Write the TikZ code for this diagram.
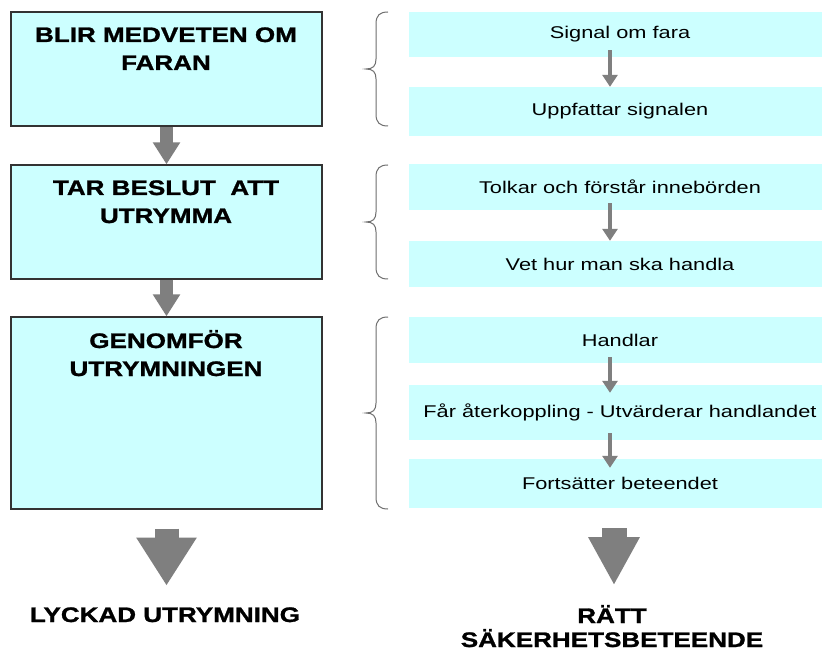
\documentclass[tikz,border=0pt]{standalone}
\usepackage{fontspec}
\setmainfont{Liberation Sans}
\newfontfamily\titlefont[FakeStretch=1.24,FakeBold=1.2]{Liberation Sans Bold}
\newfontfamily\stepfont[FakeStretch=1.28]{Liberation Sans}
\usetikzlibrary{arrows.meta,calc}
\definecolor{boxcyan}{HTML}{CCFFFF}
\definecolor{arrowgray}{HTML}{7F7F7F}
\definecolor{bracegray}{HTML}{6E6E6E}
\definecolor{edgegray}{HTML}{333333}
\tikzset{
  leftbox/.style={draw=edgegray, line width=1.3pt, fill=boxcyan, minimum width=311pt, inner sep=0pt},
  title/.style={font=\titlefont\fontsize{21}{28}\selectfont, align=center, anchor=base, inner sep=0pt},
  result/.style={font=\titlefont\fontsize{21}{24}\selectfont, align=center, anchor=base, inner sep=0pt},
  stepbox/.style={fill=boxcyan, minimum width=422pt, inner sep=0pt, font=\stepfont\fontsize{17}{20}\selectfont},
  fatarrow/.style={draw=arrowgray, line width=13pt, -{Triangle[width=26pt,length=22pt]}},
  bigarrowL/.style={draw=arrowgray, line width=24pt, -{Triangle[width=57pt,length=48pt]}},
  bigarrowR/.style={draw=arrowgray, line width=25pt, -{Triangle[width=48pt,length=48pt]}},
  thinarrow/.style={draw=arrowgray, line width=4.5pt, -{Triangle[width=15pt,length=12pt]}},
  bracestyle/.style={draw=bracegray, line width=1pt}
}
\begin{document}
\begin{tikzpicture}[x=1pt,y=-1pt]
\useasboundingbox (0,0) rectangle (822,652);
\clip (0,0) rectangle (822,652);
\fill[white] (0,0) rectangle (822,652);

% left boxes
\node[leftbox, minimum height=114pt] (b1) at (166.5,69) {};
\node[leftbox, minimum height=114pt] (b2) at (166.5,222) {};
\node[leftbox, minimum height=192pt] (b3) at (166.5,413) {};
\node[title] (t1) at (166,70) {BLIR MEDVETEN OM\\FARAN};
\node[title] (t2) at (166,223) {TAR BESLUT\ \ ATT\\UTRYMMA};
\node[title] (t3) at (166,376) {GENOMFÖR\\UTRYMNINGEN};

\draw[fatarrow] (b1.south) -- (b2.north);
\draw[fatarrow] (b2.south) -- (b3.north);

% right step boxes
\node[stepbox, minimum height=45pt] (s1) at (620,34.5) {Signal om fara};
\node[stepbox, minimum height=49pt] (s2) at (620,111.5) {Uppfattar signalen};
\node[stepbox, minimum height=46pt] (s3) at (620,187) {Tolkar och förstår innebörden};
\node[stepbox, minimum height=46pt] (s4) at (620,264) {Vet hur man ska handla};
\node[stepbox, minimum height=46pt] (s5) at (620,340) {Handlar};
\node[stepbox, minimum height=55pt] (s6) at (620,412.5) {Får återkoppling - Utvärderar handlandet};
\node[stepbox, minimum height=49pt] (s7) at (620,483.5) {Fortsätter beteendet};

\draw[thinarrow] ($(s1.south)+(-10,-7)$) -- ($(s2.north)+(-10,0)$);
\draw[thinarrow] ($(s3.south)+(-10,-7)$) -- ($(s4.north)+(-10,0)$);
\draw[thinarrow] ($(s5.south)+(-10,-6)$) -- ($(s6.north)+(-10,8)$);
\draw[thinarrow] ($(s6.south)+(-10,-7)$) -- ($(s7.north)+(-10,9)$);

% braces
\foreach \t/\m/\b in {12/69/126, 165/222/279, 317/413/509}{
  \draw[bracestyle] (388,\t) .. controls (380,\t) and (376,\t+3) .. (376,\t+12)
    -- (376,\m-10) .. controls (376,\m-3) and (373,\m) .. (366,\m)
    .. controls (373,\m) and (376,\m+3) .. (376,\m+10)
    -- (376,\b-12) .. controls (376,\b-3) and (380,\b) .. (388,\b);
}

% results
\node[result] (lyckad) at (165,622) {LYCKAD UTRYMNING};
\node[result] (ratt) at (612,647) {RÄTT\\SÄKERHETSBETEENDE};

\draw[bigarrowL, shorten <=19pt] (b3.south) -- ($(b3.south)+(0,76)$) coordinate (endL);
\coordinate (startR) at ($(s7.south -| ratt.base)+(2,20)$);
\draw[bigarrowR] (startR) -- ($(startR)+(0,57)$) coordinate (endR);
\end{tikzpicture}
\end{document}
